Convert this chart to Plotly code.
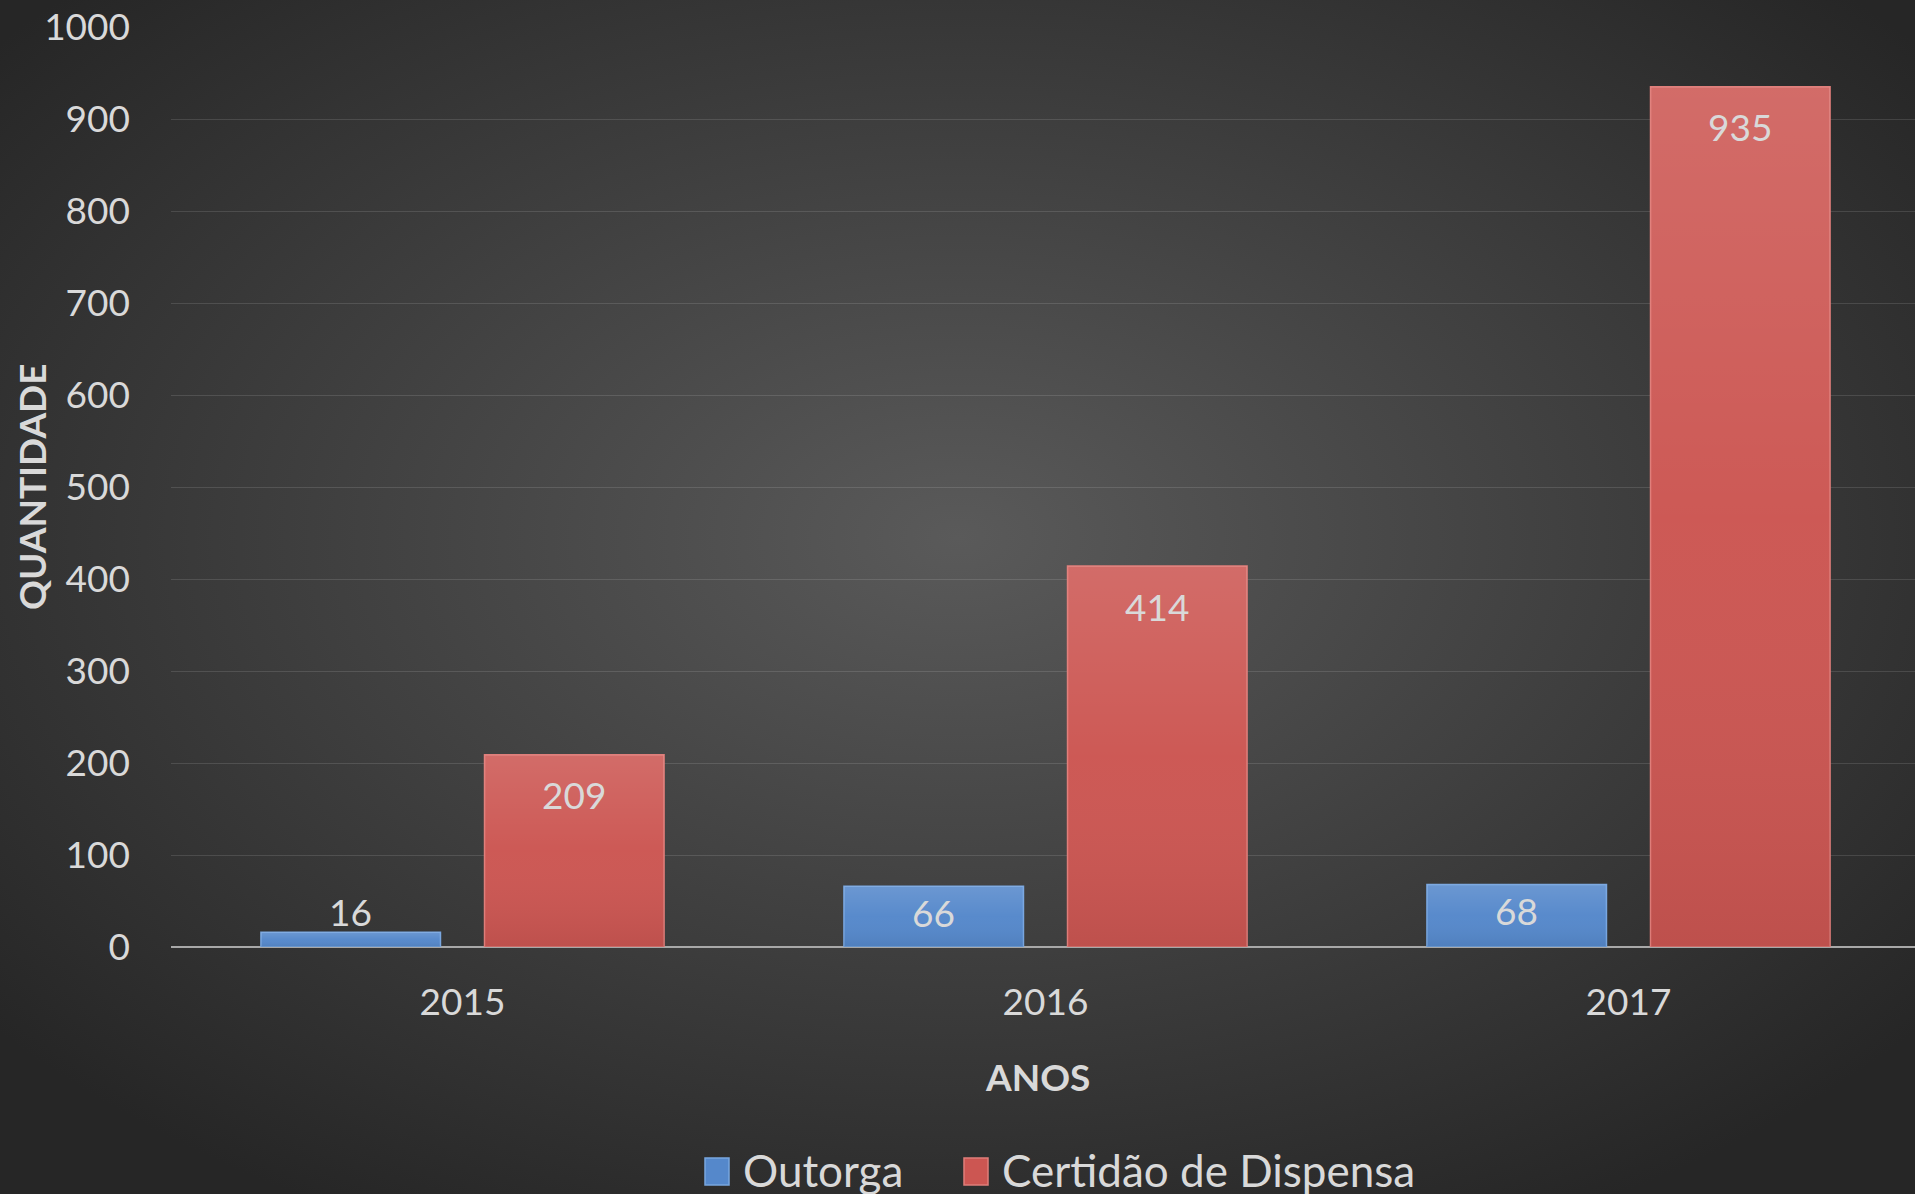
import plotly.graph_objects as go
import urllib.parse

# ---- data ----
anos = ["2015", "2016", "2017"]
outorga = [16, 66, 68]
certidao = [209, 414, 935]
series_names = ["Outorga", "Certidão de Dispensa"]
y_ticks = [0, 100, 200, 300, 400, 500, 600, 700, 800, 900, 1000]

# ---- layout constants ----
W, H = 1915, 1194
ML, MR, MT, MB = 171, 0, 27, 247
PW, PH = W - ML - MR, H - MT - MB
BARGAP, GROUPGAP = 0.233, 0.197
FONT = "Lato"
TXT = "#d9d9d9"
BLUE, BLUE_EDGE = "#5588cb", "#78a6e0"
RED, RED_EDGE = "#cc5652", "#e07e7a"


def svg_uri(svg):
    return "data:image/svg+xml;charset=utf-8," + urllib.parse.quote(svg)


bg_uri = svg_uri(
    "<svg xmlns='http://www.w3.org/2000/svg' width='1915' height='1194'>"
    "<defs><radialGradient id='g' cx='50%' cy='45%' r='65%'>"
    "<stop offset='0%' stop-color='#5a5a5a'/>"
    "<stop offset='100%' stop-color='#262626'/>"
    "</radialGradient></defs>"
    "<rect width='1915' height='1194' fill='url(#g)'/></svg>"
)
shade_uri = svg_uri(
    "<svg xmlns='http://www.w3.org/2000/svg' width='100' height='100' "
    "preserveAspectRatio='none' viewBox='0 0 100 100'>"
    "<defs><linearGradient id='s' x1='0' y1='0' x2='0' y2='1'>"
    "<stop offset='0%' stop-color='#ffffff' stop-opacity='0.13'/>"
    "<stop offset='50%' stop-color='#ffffff' stop-opacity='0.02'/>"
    "<stop offset='100%' stop-color='#000000' stop-opacity='0.07'/>"
    "</linearGradient></defs>"
    "<rect width='100' height='100' fill='url(#s)'/></svg>"
)

fig = go.Figure()
fig.add_trace(go.Bar(
    x=anos, y=outorga, name=series_names[0],
    marker=dict(color=BLUE, line=dict(color=BLUE_EDGE, width=1.5)),
    hoverinfo="skip", showlegend=False,
))
fig.add_trace(go.Bar(
    x=anos, y=certidao, name=series_names[1],
    marker=dict(color=RED, line=dict(color=RED_EDGE, width=1.5)),
    hoverinfo="skip", showlegend=False,
))

# value labels + bar shading overlays
off = (1 - BARGAP) / 4
bar_w = (1 - BARGAP) / 2 * (1 - GROUPGAP)
px_per_unit = PH / 1000
annotations = []
images = [dict(
    source=bg_uri, xref="paper", yref="paper",
    x=-ML / PW, y=1 + MT / PH, sizex=W / PW, sizey=H / PH,
    xanchor="left", yanchor="top", sizing="stretch", layer="below",
)]
for sign, vals in ((-1, outorga), (1, certidao)):
    for i, v in enumerate(vals):
        h = v * px_per_unit
        if h < 30:
            ys = 21
        elif h < 100:
            ys = -26
        else:
            ys = -40
        annotations.append(dict(
            x=i + sign * off, y=v, xref="x", yref="y", text=str(v),
            showarrow=False, yshift=ys, yanchor="middle",
            font=dict(family=FONT, size=37, color=TXT),
        ))
        images.append(dict(
            source=shade_uri, xref="x", yref="y",
            x=i + sign * off, y=v, sizex=bar_w, sizey=v,
            xanchor="center", yanchor="top", sizing="stretch", layer="above",
        ))


# pixel layout -> paper coords
def px_x(p):
    return (p - ML) / PW


def px_y(p):
    return (MT + PH - p) / PH


# axis titles
annotations.append(dict(
    x=px_x(31), y=0.5, xref="paper", yref="paper", text="<b>QUANTIDADE</b>",
    textangle=-90, showarrow=False, xanchor="center", yanchor="middle",
    font=dict(family=FONT, size=37, color=TXT),
))
annotations.append(dict(
    x=px_x(1037), y=px_y(1076), xref="paper", yref="paper", text="<b>ANOS</b>",
    showarrow=False, xanchor="center", yanchor="middle",
    font=dict(family=FONT, size=37, color=TXT),
))

# manual legend
shapes = []
legend_items = [
    (series_names[0], BLUE, BLUE_EDGE, 705, 729, 741),
    (series_names[1], RED, RED_EDGE, 964, 988, 1000),
]
for name, col, edge, x0, x1, tx in legend_items:
    shapes.append(dict(
        type="rect", xref="paper", yref="paper",
        x0=px_x(x0), x1=px_x(x1), y0=px_y(1185), y1=px_y(1158),
        fillcolor=col, line=dict(color=edge, width=1.5), layer="above",
    ))
    annotations.append(dict(
        x=px_x(tx), y=px_y(1170), xref="paper", yref="paper",
        text=name, showarrow=False, xanchor="left", yanchor="middle",
        font=dict(family=FONT, size=44, color=TXT),
    ))

fig.update_layout(
    width=W, height=H,
    margin=dict(l=ML, r=MR, t=MT, b=MB, autoexpand=False),
    paper_bgcolor="#333333",
    plot_bgcolor="rgba(0,0,0,0)",
    barmode="group", bargap=BARGAP, bargroupgap=GROUPGAP,
    font=dict(family=FONT, size=37, color=TXT),
    showlegend=False,
    images=images,
    xaxis=dict(
        type="category", range=[-0.5, 2.5 - 5 / 583],
        showgrid=False, zeroline=False, showline=False, ticks="",
        ticklabelstandoff=30,
        tickfont=dict(family=FONT, size=37, color=TXT),
    ),
    yaxis=dict(
        range=[0, 1000], tickvals=y_ticks,
        showgrid=True, gridcolor="rgba(255,255,255,0.12)", gridwidth=1,
        zeroline=True, zerolinecolor="#a8a8a8", zerolinewidth=2,
        showline=False, ticks="", ticklabelstandoff=40,
        tickfont=dict(family=FONT, size=37, color=TXT),
    ),
    shapes=shapes,
    annotations=annotations,
)

fig.write_html(
    "out.html",
    config={"displayModeBar": False},
    post_script="document.body.style.margin='0';document.body.style.overflow='hidden';",
)
